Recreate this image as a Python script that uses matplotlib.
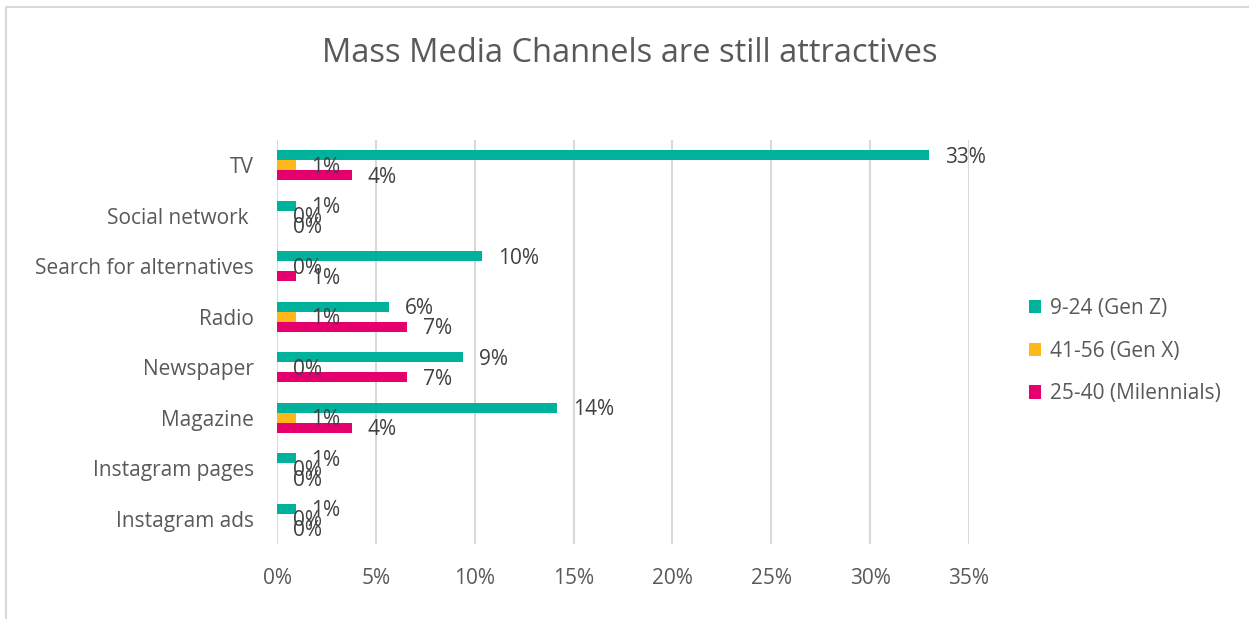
import matplotlib.pyplot as plt
from matplotlib.patches import Patch
from matplotlib.lines import Line2D
from matplotlib.ticker import PercentFormatter
import numpy as np

plt.rcParams['font.family'] = ['Open Sans', 'DejaVu Sans']

# Survey data: share of respondents per channel and age group
categories = ["TV", "Social network ", "Search for alternatives", "Radio",
              "Newspaper", "Magazine", "Instagram pages", "Instagram ads"]
gen_z = [0.330, 0.0094, 0.1038, 0.0566, 0.0943, 0.1415, 0.0094, 0.0094]
gen_x = [0.0094, 0.0, 0.0, 0.0094, 0.0, 0.0094, 0.0, 0.0]
millennials = [0.0377, 0.0, 0.0094, 0.0660, 0.0660, 0.0377, 0.0, 0.0]

series_names = ["9-24 (Gen Z)", "41-56 (Gen X)", "25-40 (Milennials)"]
series_values = [gen_z, gen_x, millennials]
series_colors = ["#00B19C", "#FFB81C", "#E5006D"]
x_ticks = [0, 0.05, 0.10, 0.15, 0.20, 0.25, 0.30, 0.35]

text_color = "#595959"
grid_color = "#D9D9D9"

fig = plt.figure(figsize=(12.49, 6.19), dpi=100)
ax = fig.add_axes([277 / 1249, 75 / 619, 692 / 1249, 404 / 619])

y = np.arange(len(categories))
bar_h = 0.198
offsets = [-bar_h, 0.0, bar_h]

for vals, color, off in zip(series_values, series_colors, offsets):
    bars = ax.barh(y + off, vals, height=bar_h, color=color, zorder=3)
    for rect, v in zip(bars, vals):
        ax.annotate(f"{v * 100:.0f}%",
                    xy=(rect.get_width(), rect.get_y() + rect.get_height() / 2),
                    xytext=(11.5, -1.5), textcoords="offset points",
                    ha="left", va="center", fontsize=15, color="#404040",
                    zorder=4)

ax.set_xlim(0, 0.35)
ax.set_ylim(len(categories) - 0.5, -0.5)
ax.set_xticks(x_ticks)
ax.xaxis.set_major_formatter(PercentFormatter(1.0, decimals=0))
ax.set_yticks(y)
ax.set_yticklabels(categories)
ax.tick_params(axis="x", length=0, pad=17.5, labelsize=15, labelcolor=text_color)
ax.tick_params(axis="y", length=0, pad=16.5, labelsize=15, labelcolor=text_color)
ax.grid(axis="x", color=grid_color, linewidth=1.5, zorder=0)
ax.set_axisbelow(True)
for s in ax.spines.values():
    s.set_visible(False)

fig.text(0.504, 1 - 62 / 619, "Mass Media Channels are still attractives",
         ha="center", va="baseline", fontsize=23.5, color=text_color)

handles = [Patch(facecolor=c, edgecolor="none") for c in series_colors]
fig.legend(handles, series_names, loc="center left",
           bbox_to_anchor=(1010 / 1249, 1 - 351 / 619), frameon=False,
           fontsize=15, labelcolor=text_color, handlelength=0.6,
           handleheight=0.6, handletextpad=0.4, labelspacing=1.05)

# chart-area frame (top and left edges)
fig.add_artist(Line2D([6 / 1249, 6 / 1249, 1.0], [0.0, 1 - 6.5 / 619, 1 - 6.5 / 619],
                      transform=fig.transFigure, color=grid_color, linewidth=1.5))

fig.savefig("out.png", dpi=100)
